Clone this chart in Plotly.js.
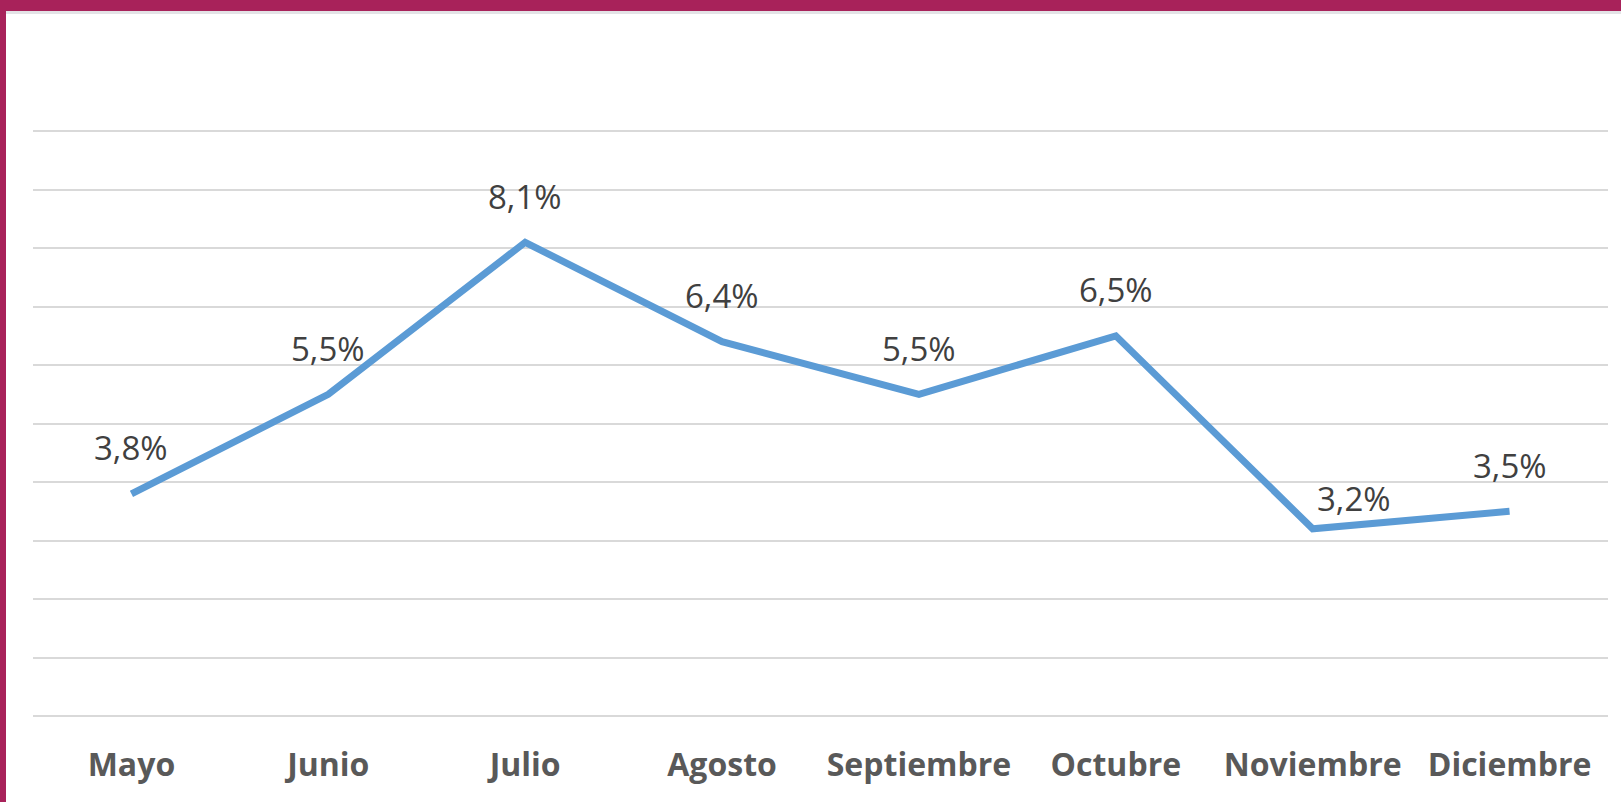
<!DOCTYPE html>
<html>
<head>
<meta charset="utf-8">
<script src="https://cdn.plot.ly/plotly-3.0.1.min.js"></script>
<style>
  html, body { margin: 0; padding: 0; background: #ffffff; overflow: hidden; }
  #wrap { position: relative; width: 1621px; height: 802px; }
  #chart { position: absolute; left: 0; top: 0; width: 1621px; height: 802px; }
  #topbar { position: absolute; left: 0; top: 0; width: 1621px; height: 11px; background: #A8225A; }
  #topline { position: absolute; left: 6px; top: 11px; width: 1615px; height: 3px; background: #E3E3E6; }
  #leftbar { position: absolute; left: 0; top: 0; width: 6px; height: 802px; background: #A8225A; }
</style>
</head>
<body>
<div id="wrap">
  <div id="chart"></div>
  <div id="topline"></div>
  <div id="topbar"></div>
  <div id="leftbar"></div>
</div>
<script>
const months = ["Mayo", "Junio", "Julio", "Agosto", "Septiembre", "Octubre", "Noviembre", "Diciembre"];
const values = [3.8, 5.5, 8.1, 6.4, 5.5, 6.5, 3.2, 3.5];
const yTicks = [0, 1, 2, 3, 4, 5, 6, 7, 8, 9, 10];

const fmt = v => v.toFixed(1).replace('.', ',') + '%';

// label offsets (px) – Noviembre label was moved in the original
const labelShift = { 6: { x: 41, y: 30 } };

const trace = {
  type: 'scatter',
  mode: 'lines',
  x: months,
  y: values,
  line: { color: '#5B9BD5', width: 7 },
  hoverinfo: 'x+y'
};

const annotations = months.map((m, i) => ({
  x: m,
  y: values[i],
  xref: 'x',
  yref: 'y',
  text: fmt(values[i]),
  showarrow: false,
  xanchor: 'center',
  yanchor: 'middle',
  xshift: labelShift[i] ? labelShift[i].x : 0,
  yshift: labelShift[i] ? labelShift[i].y : 46,
  font: { family: 'Open Sans, sans-serif', size: 33, color: '#404040' }
}));

const layout = {
  width: 1621,
  height: 802,
  margin: { l: 33, r: 13, t: 130, b: 86 },
  paper_bgcolor: '#ffffff',
  plot_bgcolor: '#ffffff',
  showlegend: false,
  xaxis: {
    type: 'category',
    range: [-0.5, 7.5],
    showgrid: false,
    zeroline: false,
    showline: false,
    ticks: '',
    ticklabelstandoff: 27,
    tickfont: { family: 'Open Sans, sans-serif', size: 32, color: '#595959', weight: 'bold' }
  },
  yaxis: {
    range: [0, 10.02],
    tickvals: yTicks,
    showticklabels: false,
    showgrid: true,
    gridcolor: '#D9D9D9',
    gridwidth: 2,
    zeroline: true,
    zerolinecolor: '#D9D9D9',
    zerolinewidth: 2,
    showline: false,
    fixedrange: true
  },
  annotations: annotations
};

Plotly.newPlot('chart', [trace], layout, { displayModeBar: false, staticPlot: true });
</script>
</body>
</html>
